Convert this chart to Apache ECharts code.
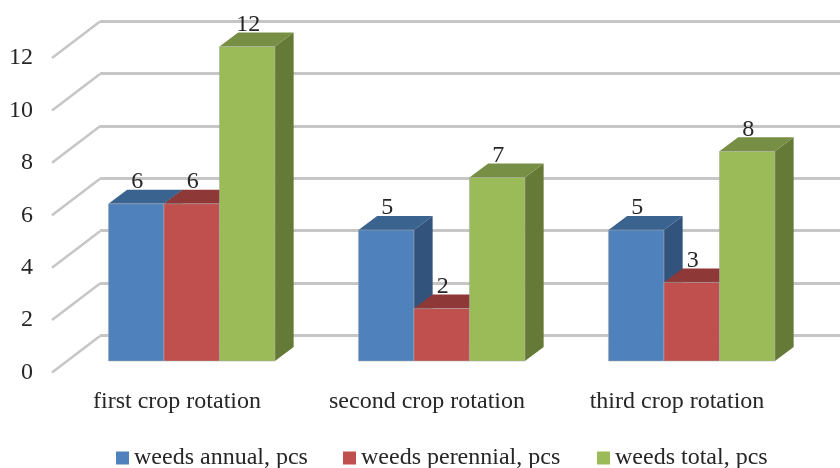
<!DOCTYPE html>
<html style="height: 100%">
<head>
    <meta charset="utf-8">
</head>
<body style="height: 100%; margin: 0; background: #fff">
<div id="chart" style="width: 840px; height: 468px"></div>
<script src="https://cdn.jsdelivr.net/npm/echarts@6/dist/echarts.min.js"></script>
<script type="text/javascript">
    var categories = ['first crop rotation', 'second crop rotation', 'third crop rotation'];
    var seriesNames = ['weeds annual, pcs', 'weeds perennial, pcs', 'weeds total, pcs'];
    var weedsAnnual = [6, 5, 5];
    var weedsPerennial = [6, 2, 3];
    var weedsTotal = [12, 7, 8];
    var yTicks = [0, 2, 4, 6, 8, 10, 12];

    var fontName = '"Liberation Serif", serif';
    var fontSize = 24;
    var textColor = '#262626';
    var gridColor = '#c6c6c6';

    // pseudo 3d: bars stand between the front plane (grid 0) and the back wall (grid 1)
    var wallDx = 48, wallDy = -36.5;
    var barShiftX = 14.7, barShiftY = -11.5;
    var depthX = 18.7, depthY = -14;
    var barRatio = 0.222;

    function barSeries(name, values, pos, front, top, side) {
        return {
            name: name,
            type: 'custom',
            xAxisIndex: 0,
            yAxisIndex: 0,
            itemStyle: { color: front },
            encode: { x: 0, y: 1 },
            data: values.map(function (v, i) { return [i, v]; }),
            renderItem: function (params, api) {
                var val = api.value(1);
                var w = api.size([1, 0])[0] * barRatio;
                var c = api.coord([api.value(0), val]);
                var b = api.coord([api.value(0), 0]);
                var x0 = c[0] + barShiftX + (pos - 1.5) * w;
                var x1 = x0 + w;
                var yt = c[1] + barShiftY;
                var yb = b[1] + barShiftY;
                return {
                    type: 'group',
                    children: [
                        {
                            type: 'polygon',
                            shape: { points: [[x1, yt], [x1 + depthX, yt + depthY], [x1 + depthX, yb + depthY], [x1, yb]] },
                            style: { fill: side }
                        },
                        {
                            type: 'polygon',
                            shape: { points: [[x0, yt], [x0 + depthX, yt + depthY], [x1 + depthX, yt + depthY], [x1, yt]] },
                            style: { fill: top }
                        },
                        {
                            type: 'rect',
                            shape: { x: x0, y: yt, width: w, height: yb - yt },
                            style: { fill: front, stroke: 'rgba(170,170,170,0.55)', lineWidth: 1 }
                        },
                        {
                            type: 'text',
                            style: {
                                x: (x0 + x1) / 2 + 1,
                                y: yt + depthY + 4,
                                text: String(val),
                                font: fontSize + 'px ' + fontName,
                                fill: textColor,
                                align: 'center',
                                verticalAlign: 'bottom'
                            }
                        }
                    ]
                };
            }
        };
    }

    function legendAt(left, name) {
        return {
            left: left,
            top: 446,
            padding: 0,
            icon: 'rect',
            itemWidth: 13,
            itemHeight: 13,
            textStyle: { fontSize: fontSize, color: textColor, fontFamily: fontName },
            data: [name]
        };
    }

    var myChart = echarts.init(document.getElementById('chart'));
    myChart.setOption({
        backgroundColor: '#fff',
        animation: false,
        textStyle: { fontFamily: fontName },
        legend: [
            legendAt(116, seriesNames[0]),
            legendAt(343, seriesNames[1]),
            legendAt(597, seriesNames[2])
        ],
        grid: [
            { left: 52, top: 58, width: 750, height: 314.5 },
            { left: 100, top: 21, right: 0, height: 314.5 }
        ],
        xAxis: [
            {
                gridIndex: 0,
                type: 'category',
                data: categories,
                axisLine: { show: false },
                axisTick: { show: false },
                axisLabel: { interval: 0, hideOverlap: false, fontSize: fontSize, color: textColor, fontFamily: fontName, margin: 17 }
            },
            { gridIndex: 1, type: 'category', show: false, data: categories }
        ],
        yAxis: [
            {
                gridIndex: 0,
                type: 'value',
                min: 0,
                max: 12,
                interval: 2,
                axisLine: { show: false },
                axisTick: { show: false },
                splitLine: { show: false },
                axisLabel: { fontSize: fontSize, color: textColor, fontFamily: fontName, margin: 19, padding: [4, 0, 0, 0] }
            },
            {
                gridIndex: 1,
                type: 'value',
                min: 0,
                max: 12,
                interval: 2,
                axisLine: { show: false },
                axisTick: { show: false },
                axisLabel: { show: false },
                splitLine: { show: true, lineStyle: { color: gridColor, width: 3 } }
            }
        ],
        series: [
            {
                type: 'custom',
                xAxisIndex: 0,
                yAxisIndex: 0,
                silent: true,
                data: yTicks.map(function (v) { return [0, v]; }),
                encode: { y: 1 },
                renderItem: function (params, api) {
                    var p = api.coord([0, api.value(1)]);
                    var x = params.coordSys.x;
                    return {
                        type: 'line',
                        shape: { x1: x, y1: p[1], x2: x + wallDx, y2: p[1] + wallDy },
                        style: { stroke: gridColor, lineWidth: 2.5, fill: null }
                    };
                }
            },
            barSeries(seriesNames[0], weedsAnnual, 0, '#4f81bd', '#3b6390', '#32537c'),
            barSeries(seriesNames[1], weedsPerennial, 1, '#c0504d', '#8e3937', '#7d3230'),
            barSeries(seriesNames[2], weedsTotal, 2, '#9bbb59', '#778f45', '#667a37')
        ]
    });
</script>
</body>
</html>
